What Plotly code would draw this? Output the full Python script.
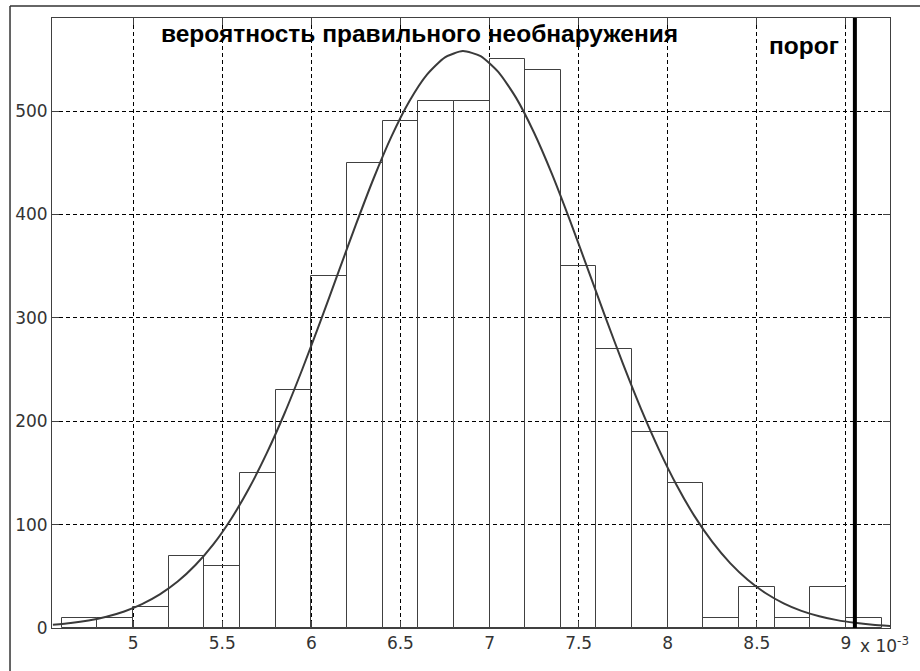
import plotly.graph_objects as go

# Histogram (x in units of 10^-3)
bin_centers = [4.7, 4.9, 5.1, 5.3, 5.5, 5.7, 5.9, 6.1, 6.3, 6.5, 6.7, 6.9,
               7.1, 7.3, 7.5, 7.7, 7.9, 8.1, 8.3, 8.5, 8.7, 8.9, 9.1]
counts = [10, 10, 20, 70, 60, 150, 230, 340, 450, 490, 510, 510,
          550, 540, 350, 270, 190, 140, 10, 40, 10, 40, 10]
bin_width = 0.2

# Fitted curve
curve_x = [4.55, 4.65, 4.75, 4.85, 4.95, 5.05, 5.15, 5.25, 5.35, 5.45, 5.55, 5.65,
           5.75, 5.85, 5.95, 6.05, 6.15, 6.25, 6.35, 6.45, 6.55, 6.65, 6.75, 6.85,
           6.95, 7.05, 7.15, 7.25, 7.35, 7.45, 7.55, 7.65, 7.75, 7.85, 7.95, 8.05,
           8.15, 8.25, 8.35, 8.45, 8.55, 8.65, 8.75, 8.85, 8.95, 9.05, 9.15, 9.25]
curve_y = [3.1, 4.8, 7.3, 10.9, 16.0, 23.1, 32.5, 44.9, 60.9, 80.9, 105.5, 134.9,
           169.1, 207.7, 250.5, 296.0, 343.2, 390.1, 435.0, 475.5, 509.5, 535.5, 552.0, 558.0,
           553.1, 537.6, 512.5, 479.0, 439.2, 394.7, 347.9, 300.7, 254.9, 211.9, 172.8, 138.1,
           108.2, 83.2, 62.7, 46.4, 33.6, 23.9, 16.6, 11.4, 7.6, 5.0, 3.2, 2.0]

threshold = 9.05
x_range = [4.545, 9.247]
y_range = [0, 590]

x_ticks = [5, 5.5, 6, 6.5, 7, 7.5, 8, 8.5, 9]
x_ticktext = ["5", "5.5", "6", "6.5", "7", "7.5", "8", "8.5", "9"]
y_ticks = [0, 100, 200, 300, 400, 500]
y_ticktext = ["0", "100", "200", "300", "400", "500"]

title_text = "вероятность правильного необнаружения"
threshold_text = "порог"
exponent_text = "x 10<sup>-3</sup>"

fig = go.Figure()

fig.add_trace(go.Bar(
    x=bin_centers, y=counts, width=bin_width,
    marker=dict(color="rgba(0,0,0,0)", line=dict(color="#404040", width=1)),
    hoverinfo="skip", showlegend=False,
))

fig.add_trace(go.Scatter(
    x=curve_x, y=curve_y, mode="lines",
    line=dict(color="#3a3a3a", width=2, shape="spline", smoothing=0.6),
    hoverinfo="skip", showlegend=False,
))

fig.add_trace(go.Scatter(
    x=[threshold, threshold], y=y_range, mode="lines",
    line=dict(color="#000000", width=4),
    hoverinfo="skip", showlegend=False, cliponaxis=False,
))

tickfont = dict(family="DejaVu Sans, sans-serif", size=17, color="#333333")
axis_common = dict(
    showline=True, linecolor="#404040", linewidth=1, mirror="ticks",
    ticks="inside", ticklen=7, tickcolor="#404040", tickwidth=1,
    showgrid=True, gridcolor="#000000", gridwidth=1, griddash="4px,3px",
    zeroline=False, tickfont=tickfont,
)

fig.update_xaxes(range=x_range, tickvals=x_ticks, ticktext=x_ticktext, **axis_common)
fig.update_yaxes(range=y_range, tickvals=y_ticks, ticktext=y_ticktext, **axis_common)

annfont = dict(family="Liberation Sans, Arial, sans-serif", size=24.5, color="#000000", weight="bold")
fig.add_annotation(xref="paper", yref="paper", x=0.1277, y=0.975, xanchor="left", yanchor="middle",
                   text=title_text, showarrow=False, font=annfont)
fig.add_annotation(xref="paper", yref="paper", x=0.9415, y=0.9546, xanchor="right", yanchor="middle",
                   text=threshold_text, showarrow=False, font=annfont)
fig.add_annotation(xref="paper", yref="paper", x=0.962, y=-0.028, xanchor="left", yanchor="middle",
                   text=exponent_text, showarrow=False, font=tickfont)

# partial outer frame (figure border)
fig.add_shape(type="line", xref="paper", yref="paper", x0=-0.0501, x1=-0.0501, y0=-0.08, y1=1.0197,
              line=dict(color="#333333", width=1.5))
fig.add_shape(type="line", xref="paper", yref="paper", x0=-0.0501, x1=1.04, y0=1.0197, y1=1.0197,
              line=dict(color="#333333", width=1.5))

fig.update_layout(
    width=920, height=671,
    margin=dict(l=52, r=30, t=18, b=43),
    paper_bgcolor="white", plot_bgcolor="white",
    bargap=0, showlegend=False,
)

fig.write_html("out.html",
               config={"displayModeBar": False},
               post_script="document.body.style.margin='0';document.body.style.overflow='hidden';")
